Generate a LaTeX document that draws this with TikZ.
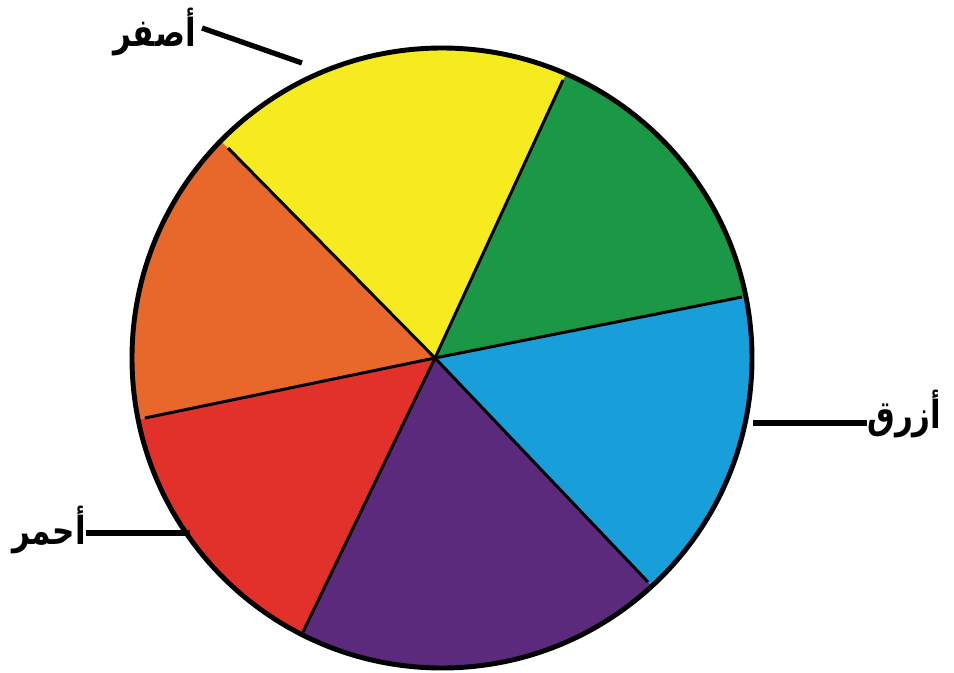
\documentclass[tikz,border=0pt]{standalone}
\usepackage{fontspec}
\usepackage{graphicx}
\usepackage{tikz}
\usetikzlibrary{calc}
\TeXXeTstate=1
\newfontfamily\arabicfont[Script=Arabic]{DejaVu Sans}
\newcommand{\arlbl}[1]{\scalebox{0.84}[1.05]{\beginR #1\endR}}
\definecolor{wyellow}{HTML}{F6EB1E}
\definecolor{wgreen}{HTML}{1A9846}
\definecolor{wblue}{HTML}{189FDA}
\definecolor{wpurple}{HTML}{5C2A7D}
\definecolor{wred}{HTML}{E2312B}
\definecolor{worange}{HTML}{E8672A}

\begin{document}
\begin{tikzpicture}[x=0.02cm,y=-0.02cm,
  spoke/.style={line width=1.7pt,black},
  rim/.style={line width=2.8pt,black},
  leader/.style={line width=3pt,black},
  lbl/.style={font=\arabicfont\bfseries\fontsize{21}{24}\selectfont,inner sep=0pt}]
  \useasboundingbox (0,0) rectangle (954,673);

  % Wheel geometry
  \coordinate (c) at (442,358);
  \coordinate (hub) at (435,358);
  \coordinate (p1) at (563,80);
  \coordinate (p2) at (742,297);
  \coordinate (p3) at (648,582);
  \coordinate (p4) at (303,632);
  \coordinate (p5) at (145,418);
  \coordinate (p6) at (228,148);

  % Sectors
  \begin{scope}
    \clip (c) circle (310);
    \fill[wgreen]  (hub) -- ($(hub)!2!(p1)$) -- ($(hub)!2!(p2)$) -- cycle;
    \fill[wblue]   (hub) -- ($(hub)!2!(p2)$) -- ($(hub)!2!(p3)$) -- cycle;
    \fill[wpurple] (hub) -- ($(hub)!2!(p3)$) -- ($(hub)!2!(p4)$) -- cycle;
    \fill[wred]    (hub) -- ($(hub)!2!(p4)$) -- ($(hub)!2!(p5)$) -- cycle;
    \fill[worange] (hub) -- ($(hub)!2!(p5)$) -- ($(hub)!2!(p6)$) -- cycle;
    \fill[wyellow] (hub) -- ($(hub)!2!(p6)$) -- ($(hub)!2!(p1)$) -- cycle;
  \end{scope}
  \foreach \p in {p1,p2,p3,p4,p5,p6}
    \draw[spoke] (hub) -- (\p);
  \draw[rim] (c) circle (310);

  % Labels
  \coordinate (yellowtip) at (302,63);
  \coordinate (bluetip) at (753,423);
  \coordinate (redtip) at (190,533);
  \node[lbl,anchor=east] (yellowlbl) at (196,32) {\arlbl{أصفر}};
  \node[lbl,anchor=west] (bluelbl) at (867,414) {\arlbl{أزرق}};
  \node[lbl,anchor=east] (redlbl) at (86,530) {\arlbl{أحمر}};
  \draw[leader] ($(yellowlbl.east)+(6,-4)$) -- (yellowtip);
  \draw[leader] (bluetip) -- (bluetip -| bluelbl.west);
  \draw[leader] (redtip) -- (redtip -| redlbl.east);
\end{tikzpicture}
\end{document}
